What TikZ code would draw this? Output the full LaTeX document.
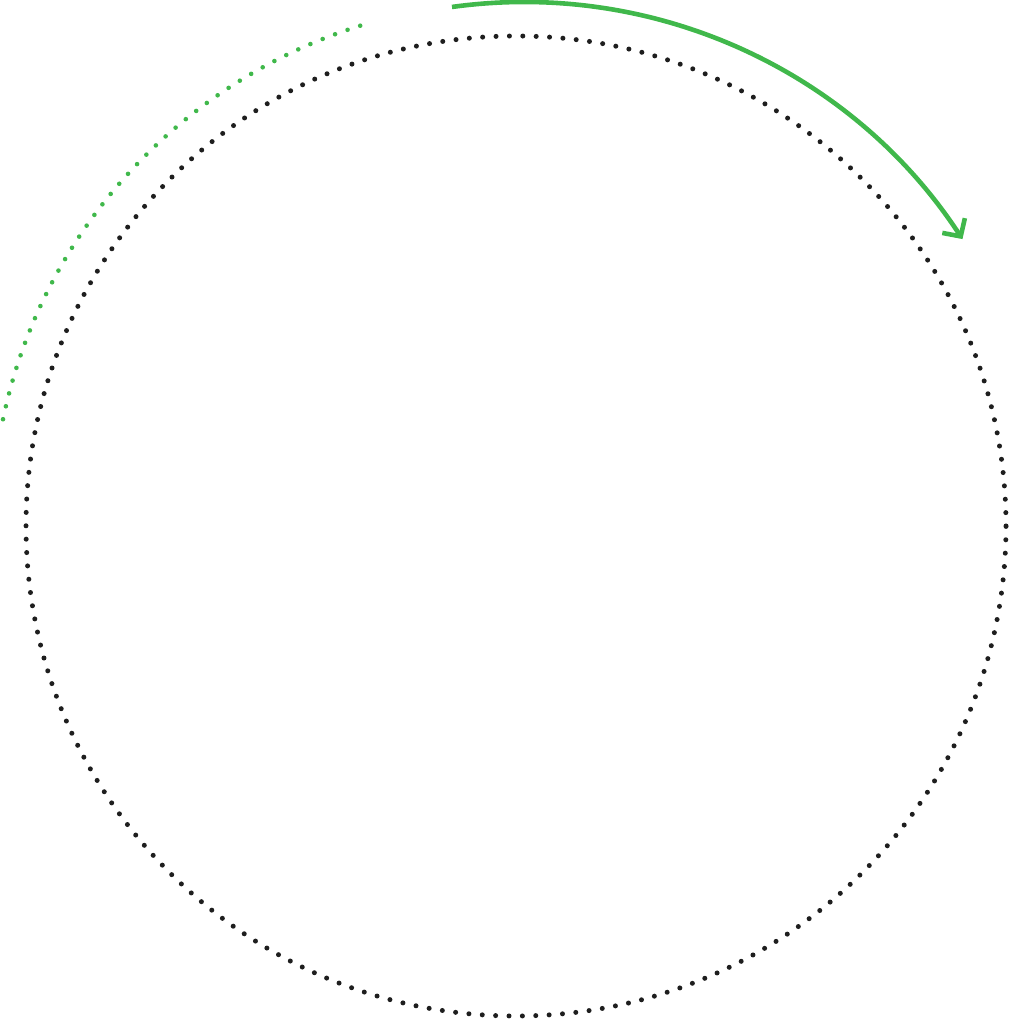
\documentclass[tikz,border=0pt]{standalone}
\usetikzlibrary{arrows.meta}
\definecolor{ringgreen}{RGB}{64,184,75}
\definecolor{dotblack}{RGB}{30,30,30}
\tikzset{
  blackdots/.style={draw=dotblack, line width=5pt, line cap=round, dash pattern=on 0pt off 13.386pt},
  greendots/.style={draw=ringgreen, line width=4.6pt, line cap=round, dash pattern=on 0pt off 13.27pt},
  greenarrow/.style={draw=ringgreen, line width=4.6pt, -{Straight Barb[length=13pt,width=27pt]}}
}
\begin{document}
\begin{tikzpicture}[x=1pt,y=1pt]
\useasboundingbox (0,0) rectangle (1016,1024);
\coordinate (c) at (516,498);
\coordinate (ca) at (524,498);
\draw[blackdots] (c) circle[radius=490];
\draw[greendots] ([shift={(107.3:524)}]c) arc[start angle=107.3, end angle=168.25, radius=524];
\draw[greenarrow] ([shift={(97.9:524)}]ca) arc[start angle=97.9, end angle=33.2, radius=524];
\end{tikzpicture}
\end{document}
